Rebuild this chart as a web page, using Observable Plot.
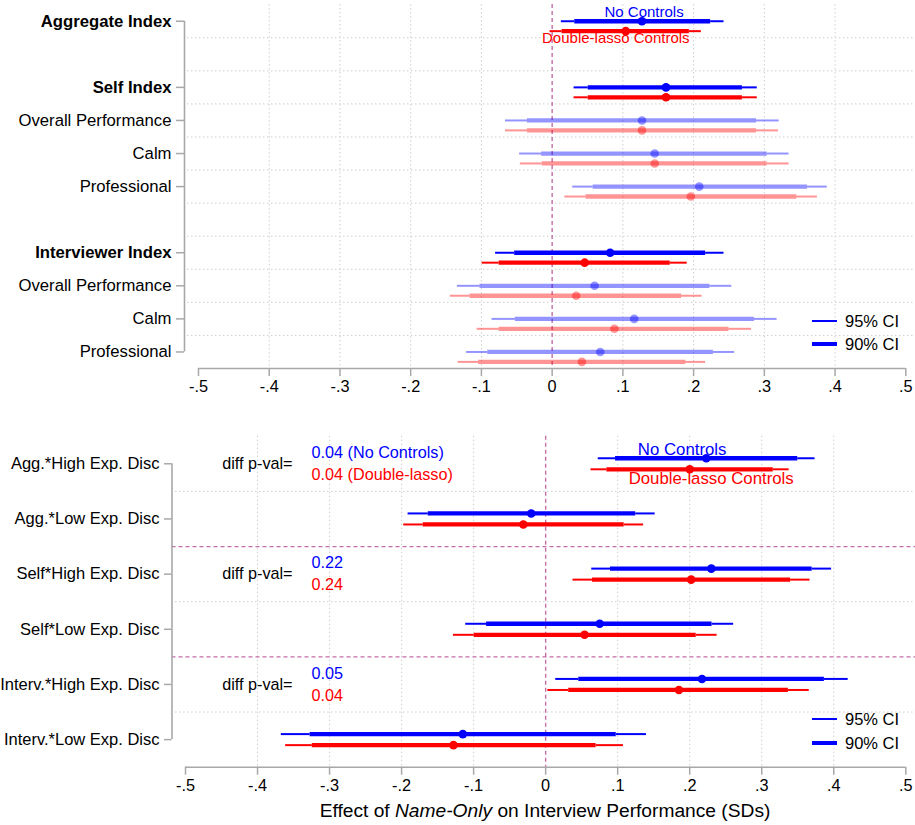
<!DOCTYPE html>
<html>
<head>
<meta charset="utf-8">
<script src="https://cdn.jsdelivr.net/npm/d3@7"></script>
<script src="https://cdn.jsdelivr.net/npm/@observablehq/plot@0.6"></script>
<style>
  body { margin: 0; background: #fff; font-family: "Liberation Sans", Arial, sans-serif; }
  #wrap { position: relative; width: 915px; height: 825px; overflow: hidden; }
  #top, #bot { position: absolute; left: 0; }
  #top { top: 0; }
  #bot { top: 400px; }
  .legend { position: absolute; font-size: 16.5px; color: #000; }
  .legend .row { position: absolute; left: 0; white-space: nowrap; }
  .legend .sw { position: absolute; left: 0; width: 25px; background: #0000ff; }
  .legend .lab { position: absolute; left: 33px; top: -10px; line-height: 20px; }
  #xtitle { position: absolute; top: 800px; left: 0; width: 1090px; text-align: center; font-size: 19.2px; line-height: 22px; }
</style>
</head>
<body>
<div id="wrap">
  <div id="top"></div>
  <div id="bot"></div>
  <div class="legend" style="left:812px; top:321px;">
    <div class="row" style="top:0"><div class="sw" style="height:2px; top:-1px"></div><div class="lab">95% CI</div></div>
    <div class="row" style="top:23px"><div class="sw" style="height:4.5px; top:-2.25px"></div><div class="lab">90% CI</div></div>
  </div>
  <div class="legend" style="left:812px; top:719px;">
    <div class="row" style="top:0"><div class="sw" style="height:2px; top:-1px"></div><div class="lab">95% CI</div></div>
    <div class="row" style="top:24px"><div class="sw" style="height:4.5px; top:-2.25px"></div><div class="lab">90% CI</div></div>
  </div>
  <div id="xtitle">Effect of <i>Name-Only</i> on Interview Performance (SDs)</div>
</div>
<script>
// ---------- data ----------
const xTicks = [-0.5, -0.4, -0.3, -0.2, -0.1, 0, 0.1, 0.2, 0.3, 0.4, 0.5];

// top panel
const topLabels = ["Aggregate Index", "Self Index", "Overall Performance", "Calm", "Professional",
                   "Interviewer Index", "Overall Performance", "Calm", "Professional"];
const topPos = [0, 2, 3, 4, 5, 7, 8, 9, 10];
const topIsIndex = [true, true, false, false, false, true, false, false, false];

const topBlueEst  = [0.127, 0.161, 0.127, 0.145, 0.208, 0.082, 0.060, 0.116, 0.068];
const topBlueLo95 = [0.013, 0.031, -0.066, -0.046, 0.029, -0.080, -0.134, -0.085, -0.121];
const topBlueHi95 = [0.243, 0.290, 0.321, 0.335, 0.389, 0.243, 0.254, 0.318, 0.258];
const topBlueLo90 = [0.032, 0.051, -0.035, -0.015, 0.058, -0.053, -0.102, -0.052, -0.091];
const topBlueHi90 = [0.224, 0.269, 0.289, 0.304, 0.361, 0.217, 0.223, 0.286, 0.228];

const topRedEst  = [0.104, 0.161, 0.127, 0.145, 0.196, 0.046, 0.034, 0.088, 0.042];
const topRedLo95 = [-0.003, 0.031, -0.066, -0.045, 0.018, -0.099, -0.144, -0.106, -0.133];
const topRedHi95 = [0.211, 0.290, 0.320, 0.335, 0.375, 0.191, 0.212, 0.282, 0.217];
const topRedLo90 = [0.014, 0.051, -0.035, -0.014, 0.048, -0.075, -0.116, -0.075, -0.104];
const topRedHi90 = [0.194, 0.269, 0.289, 0.304, 0.346, 0.167, 0.183, 0.250, 0.189];

const topNoteText = ["No Controls", "Double-lasso Controls"];
const topNoteX = [0.13, 0.09];
const topNoteY = [-0.26, 0.51];

// bottom panel
const botLabels = ["Agg.*High Exp. Disc", "Agg.*Low Exp. Disc", "Self*High Exp. Disc",
                   "Self*Low Exp. Disc", "Interv.*High Exp. Disc", "Interv.*Low Exp. Disc"];
const botPos = [0, 1, 2, 3, 4, 5];

const botBlueEst  = [0.223, -0.020, 0.230, 0.075, 0.217, -0.115];
const botBlueLo95 = [0.073, -0.191, 0.064, -0.111, 0.014, -0.367];
const botBlueHi95 = [0.374, 0.152, 0.397, 0.261, 0.420, 0.140];
const botBlueLo90 = [0.097, -0.163, 0.090, -0.082, 0.046, -0.327];
const botBlueHi90 = [0.350, 0.125, 0.370, 0.231, 0.387, 0.098];

const botRedEst  = [0.200, -0.031, 0.202, 0.054, 0.185, -0.128];
const botRedLo95 = [0.063, -0.197, 0.038, -0.128, 0.003, -0.361];
const botRedHi95 = [0.338, 0.136, 0.367, 0.238, 0.366, 0.108];
const botRedLo90 = [0.085, -0.170, 0.065, -0.099, 0.032, -0.324];
const botRedHi90 = [0.316, 0.109, 0.340, 0.209, 0.337, 0.070];

const pvalRows = [0, 2, 4];
const pvalBlue = ["0.04 (No Controls)", "0.22", "0.05"];
const pvalRed  = ["0.04 (Double-lasso)", "0.24", "0.04"];
const pvalLabelX = -0.449;
const pvalValueX = -0.325;

const botNoteText = ["No Controls", "Double-lasso Controls"];
const botNoteX = [0.1895, 0.2298];
const botNoteY = [-0.26, 0.266];
const botGroupBreaks = [1.5, 3.5];

// ---------- styling ----------
const BLUE = "#0000ff", RED = "#ff0000";
const ZERO = "#c46ea6", AXIS = "#a8a8a8", GRID = "#cfcfcf";
const FONT = "'Liberation Sans', Arial, sans-serif";
const fmtX = d => d === 0 ? "0" : d.toFixed(1).replace("0.", ".");

function series(pos, est, lo95, hi95, lo90, hi90, faded, yOff, color) {
  const rows = pos.map((p, i) => ({
    y: p + yOff, est: est[i], lo95: lo95[i], hi95: hi95[i], lo90: lo90[i], hi90: hi90[i],
    op: faded && faded[i] ? 0.42 : 1
  }));
  return [
    Plot.ruleY(rows, {y: "y", x1: "lo95", x2: "lo90", stroke: color, strokeWidth: 2, strokeOpacity: "op"}),
    Plot.ruleY(rows, {y: "y", x1: "hi90", x2: "hi95", stroke: color, strokeWidth: 2, strokeOpacity: "op"}),
    Plot.ruleY(rows, {y: "y", x1: "lo90", x2: "hi90", stroke: color, strokeWidth: 4.3, strokeOpacity: "op"}),
    Plot.dot(rows, {x: "est", y: "y", r: 4.3, fill: color, fillOpacity: "op", stroke: null})
  ];
}

// ---------- top panel ----------
const topLabelMap = new Map(topPos.map((p, i) => [p, topLabels[i]]));
const halfTop = d3.range(d3.min(topPos) + 0.5, d3.max(topPos), 1);
const topFaded = topIsIndex.map(b => !b);

const topPlot = Plot.plot({
  width: 915, height: 400,
  marginTop: 4, marginBottom: 32, marginLeft: 184, marginRight: 9.7,
  style: {fontFamily: FONT, fontSize: "16.5px", color: "#000", background: "transparent", overflow: "visible"},
  x: {domain: [-0.5, 0.5], range: [198, 905.3]},
  y: {domain: [-0.5, 10.5], range: [4.2, 368]},
  marks: [
    Plot.ruleX(xTicks.filter(d => d !== 0 && Math.abs(d) !== 0.5), {stroke: GRID, strokeDasharray: "1.5,2.5", strokeWidth: 1}),
    Plot.ruleY(halfTop, {stroke: GRID, strokeDasharray: "1.5,2.5", strokeWidth: 1, insetLeft: 3, insetRight: -9.7}),
    Plot.ruleX([0], {stroke: ZERO, strokeDasharray: "4,3", strokeWidth: 1.4}),
    Plot.ruleY([10.5], {x1: d3.min(xTicks), x2: d3.max(xTicks), stroke: AXIS, strokeWidth: 1.6}),
    Plot.ruleX([d3.min(xTicks)], {y1: d3.min(topPos), y2: d3.max(topPos), dx: -14, stroke: AXIS, strokeWidth: 1.6}),
    Plot.axisX(xTicks, {tickFormat: fmtX, tickSize: 8, tickPadding: 4, fontSize: 16.3, stroke: AXIS, strokeWidth: 1.5, fill: "#000"}),
    Plot.axisY(topPos.filter((p, i) => topIsIndex[i]), {tickFormat: p => topLabelMap.get(p), tickSize: 8, tickPadding: 5, fontSize: 16.7, fontWeight: "bold", stroke: AXIS, strokeWidth: 1.5, fill: "#000", label: null}),
    Plot.axisY(topPos.filter((p, i) => !topIsIndex[i]), {tickFormat: p => topLabelMap.get(p), tickSize: 8, tickPadding: 5, fontSize: 16.7, stroke: AXIS, strokeWidth: 1.5, fill: "#000", label: null}),
    ...series(topPos, topRedEst, topRedLo95, topRedHi95, topRedLo90, topRedHi90, topFaded, 0.3, RED),
    ...series(topPos, topBlueEst, topBlueLo95, topBlueHi95, topBlueLo90, topBlueHi90, topFaded, 0, BLUE),
    Plot.text(topNoteText, {x: (d, i) => topNoteX[i], y: (d, i) => topNoteY[i], text: d => d,
      fill: (d, i) => i === 0 ? BLUE : RED, fontSize: 15})
  ]
});
document.getElementById("top").append(topPlot);

// ---------- bottom panel ----------
const halfBot = d3.range(d3.min(botPos) + 0.5, d3.max(botPos), 1);

const botPlot = Plot.plot({
  width: 915, height: 425,
  marginTop: 35.7, marginBottom: 58.3, marginLeft: 171.5, marginRight: 9.7,
  style: {fontFamily: FONT, fontSize: "16.5px", color: "#000", background: "transparent", overflow: "visible"},
  x: {domain: [-0.5, 0.5], range: [185, 905.3]},
  y: {domain: [-0.5, 5.5], range: [35.7, 366.7]},
  marks: [
    Plot.ruleX(xTicks.filter(d => d !== 0 && Math.abs(d) !== 0.5), {stroke: GRID, strokeDasharray: "1.5,2.5", strokeWidth: 1}),
    Plot.ruleY(halfBot.filter(d => !botGroupBreaks.includes(d)), {stroke: GRID, strokeDasharray: "1.5,2.5", strokeWidth: 1, insetLeft: 3.5, insetRight: -9.7}),
    Plot.ruleY(botGroupBreaks, {stroke: ZERO, strokeDasharray: "4,3", strokeWidth: 1.3, insetRight: -9.7}),
    Plot.ruleX([0], {stroke: ZERO, strokeDasharray: "4,3", strokeWidth: 1.4}),
    Plot.ruleY([5.5], {x1: d3.min(xTicks), x2: d3.max(xTicks), stroke: AXIS, strokeWidth: 1.6}),
    Plot.ruleX([d3.min(xTicks)], {y1: d3.min(botPos), y2: d3.max(botPos), dx: -13.5, stroke: AXIS, strokeWidth: 1.6}),
    Plot.axisX(xTicks, {tickFormat: fmtX, tickSize: 8, tickPadding: 4, fontSize: 16.3, stroke: AXIS, strokeWidth: 1.5, fill: "#000"}),
    Plot.axisY(botPos, {tickFormat: p => botLabels[p], tickSize: 7.5, tickPadding: 5, fontSize: 16.5, stroke: AXIS, strokeWidth: 1.5, fill: "#000", label: null}),
    ...series(botPos, botRedEst, botRedLo95, botRedHi95, botRedLo90, botRedHi90, null, 0.1, RED),
    ...series(botPos, botBlueEst, botBlueLo95, botBlueHi95, botBlueLo90, botBlueHi90, null, -0.1, BLUE),
    Plot.text(pvalRows, {x: pvalLabelX, y: d => d, text: () => "diff p-val=", textAnchor: "start", fill: "#000", fontSize: 16.2}),
    Plot.text(pvalRows, {x: pvalValueX, y: d => d - 0.2, text: (d, i) => pvalBlue[i], textAnchor: "start", fill: BLUE, fontSize: 16.2}),
    Plot.text(pvalRows, {x: pvalValueX, y: d => d + 0.2, text: (d, i) => pvalRed[i], textAnchor: "start", fill: RED, fontSize: 16.2}),
    Plot.text(botNoteText, {x: (d, i) => botNoteX[i], y: (d, i) => botNoteY[i], text: d => d,
      fill: (d, i) => i === 0 ? BLUE : RED, fontSize: 16.8})
  ]
});
document.getElementById("bot").append(botPlot);
</script>
</body>
</html>
